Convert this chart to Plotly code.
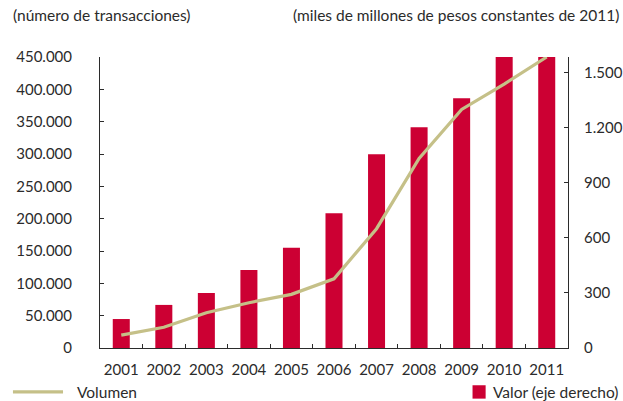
import plotly.graph_objects as go

# Annual data, 2001-2011
years = ["2001", "2002", "2003", "2004", "2005", "2006",
         "2007", "2008", "2009", "2010", "2011"]
# Number of transactions (left axis)
volumen = [20000, 32000, 54500, 70000, 83000, 107000,
           184500, 293000, 369000, 408000, 450000]
# Value, thousands of millions of constant 2011 pesos (right axis)
valor = [158, 235, 300, 425, 547, 735, 1056, 1204, 1362, 1660, 1720]

left_ticks = [0, 50000, 100000, 150000, 200000, 250000, 300000,
              350000, 400000, 450000]
right_ticks = [0, 300, 600, 900, 1200, 1500]

RED = "#cc0033"
KHAKI = "#c5c088"
INK = "#2b2b2b"
FONT = "Lato"
TICK_SIZE = 15
TEXT_SIZE = 15.5

fig = go.Figure()

# Bars on the base (right-hand) axis, line on the overlaying left axis
# so the line is drawn above the bars.
fig.add_trace(go.Bar(
    x=years, y=valor, name="Valor (eje derecho)", yaxis="y",
    marker=dict(color=RED, line=dict(width=0)),
))
fig.add_trace(go.Scatter(
    x=years, y=volumen, name="Volumen", mode="lines", yaxis="y2",
    line=dict(color=KHAKI, width=3.2),
))

axis_common = dict(
    showgrid=False, zeroline=False, showline=True, linecolor=INK,
    linewidth=1, ticks="inside", ticklen=4, tickcolor=INK,
    tickfont=dict(family=FONT, size=TICK_SIZE, color=INK),
    ticklabeloverflow="allow",
)


def note(text, x, y, xanchor):
    return dict(text=text, xref="paper", yref="paper", x=x, y=y,
                xanchor=xanchor, yanchor="middle", showarrow=False,
                font=dict(family=FONT, size=TEXT_SIZE, color=INK))


# Legend keys along the bottom edge, one at each side
LEG_Y = -0.151
shapes = [
    dict(type="line", xref="paper", yref="paper",
         x0=-0.186, x1=-0.079, y0=LEG_Y, y1=LEG_Y,
         line=dict(color=KHAKI, width=3.2)),
    dict(type="rect", xref="paper", yref="paper",
         x0=0.796, x1=0.824, y0=LEG_Y - 0.023, y1=LEG_Y + 0.023,
         fillcolor=RED, line=dict(width=0)),
]

fig.update_layout(
    width=623, height=401,
    margin=dict(l=100, r=55, t=57, b=53, autoexpand=False),
    paper_bgcolor="white", plot_bgcolor="white",
    separators=",.",
    bargap=0.6,
    showlegend=False,
    font=dict(family=FONT, size=TEXT_SIZE, color=INK),
    xaxis=dict(
        type="category", range=[-0.5, 10.5], tickangle=0,
        tickson="boundaries", ticklabelstandoff=8, **axis_common,
    ),
    yaxis=dict(
        range=[0, 1587], tickvals=right_ticks, tickformat=",d",
        side="right", ticklabelstandoff=12, **axis_common,
    ),
    yaxis2=dict(
        range=[0, 450000], tickvals=left_ticks, tickformat=",d",
        overlaying="y", side="left", ticklabelstandoff=24,
        **axis_common,
    ),
    shapes=shapes,
    annotations=[
        note("(número de transacciones)", -0.19, 1.145, "left"),
        note("(miles de millones de pesos constantes de 2011)",
             1.113, 1.145, "right"),
        note("Volumen", -0.053, LEG_Y, "left"),
        note("Valor (eje derecho)", 1.111, LEG_Y, "right"),
    ],
)

fig.write_html("out.html")
